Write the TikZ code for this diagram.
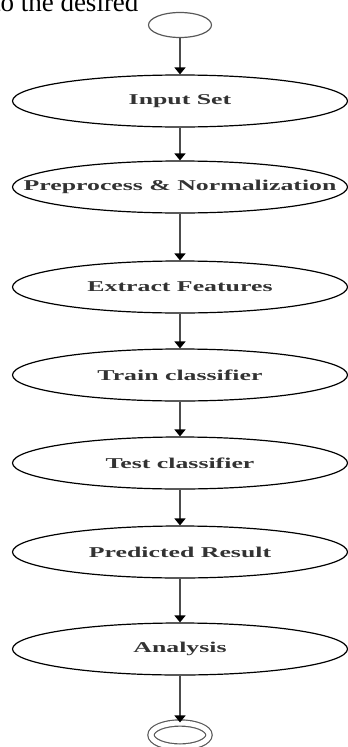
\documentclass[tikz,border=0pt]{standalone}
\usepackage{fontspec}
\usepackage{graphicx}
\setmainfont{Liberation Serif}
\usetikzlibrary{shapes.geometric,arrows.meta}

\tikzstyle{stagenode} = [ellipse, draw, line width=1.2pt, minimum width=335pt, minimum height=52pt, inner sep=0pt, text=black!80, font=\fontsize{15}{17}\selectfont\bfseries]
\tikzstyle{termnode} = [ellipse, draw=black!65, line width=1.2pt, minimum width=63pt, minimum height=25pt, inner sep=0pt]
\tikzstyle{flow} = [draw=black!70, line width=2.2pt, -{Triangle[width=11pt,length=7pt,color=black]}]
\newcommand{\stagelabel}[1]{\makebox[0pt]{\scalebox{1.72}[1]{#1}}}

\begin{document}
\begin{tikzpicture}[x=1pt, y=1pt, node distance=88pt]
        \useasboundingbox (0,0) rectangle (348,-747);
        \node[anchor=base east, font=\fontsize{27}{30}\selectfont] (topline) at (142,-11.5) {to the desired};

        \node [termnode] (start) at (180,-25) {};
        \node [stagenode, below of=start, yshift=12pt] (input) {\stagelabel{Input Set}};
        \node [stagenode, below of=input, yshift=2pt] (prep) {\stagelabel{Preprocess \& Normalization}};
        \node [stagenode, below of=prep, yshift=-12pt] (extract) {\stagelabel{Extract Features}};
        \node [stagenode, below of=extract] (train) {\stagelabel{Train classifier}};
        \node [stagenode, below of=train] (test) {\stagelabel{Test classifier}};
        \node [stagenode, below of=test, yshift=-1pt] (predict) {\stagelabel{Predicted Result}};
        \node [stagenode, below of=predict, yshift=-9pt] (analysis) {\stagelabel{Analysis}};
        \node [termnode, double, double distance=5pt, minimum width=58pt, minimum height=24pt, below of=analysis, yshift=2pt] (finish) {};

        \draw [flow] (start) -- (input);
        \draw [flow] (input) -- (prep);
        \draw [flow] (prep) -- (extract);
        \draw [flow] (extract) -- (train);
        \draw [flow] (train) -- (test);
        \draw [flow] (test) -- (predict);
        \draw [flow] (predict) -- (analysis);
        \draw [flow] (analysis) -- (finish);

    \end{tikzpicture}
\end{document}
